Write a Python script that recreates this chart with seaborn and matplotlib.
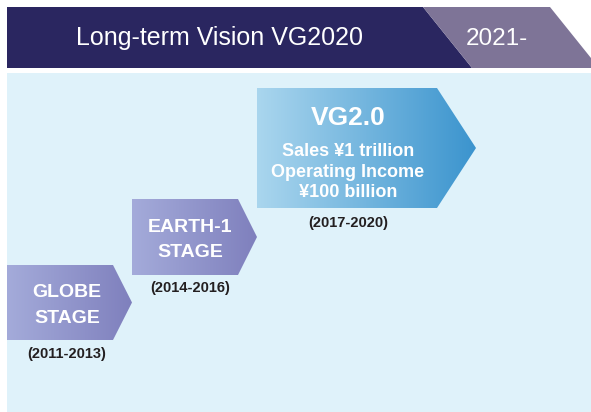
import numpy as np
import matplotlib.pyplot as plt
import seaborn as sns
from matplotlib.patches import Polygon, Rectangle

sns.set_theme(style="white")
plt.rcParams['font.family'] = ['Liberation Sans', 'DejaVu Sans']

# Content
header_title = "Long-term Vision VG2020"
header_next = "2021-"
stage_titles = [["GLOBE", "STAGE"], ["EARTH-1", "STAGE"], ["VG2.0"]]
stage_periods = ["(2011-2013)", "(2014-2016)", "(2017-2020)"]
vg_targets = ["Sales ¥1 trillion", "Operating Income", "¥100 billion"]

# Layout in pixels: left, top, bottom, body right, arrow tip
boxes = [(7, 265, 340, 113, 132), (132, 199, 275, 238, 257), (257, 88, 208, 437, 476)]
title_x = [67, 190, 348]
title_base = [[297, 323], [232, 257], [125]]
title_size = [14, 14, 19]
period_base = [358, 292, 227]
target_base = [156, 177, 197]
grads = [["#a4abda", "#7f80bd"], ["#a4abda", "#7f80bd"], ["#aad6ee", "#3b94ce"]]

W, H = 591, 412
fig = plt.figure(figsize=(W / 100, H / 100), dpi=100)
ax = fig.add_axes([0, 0, 1, 1])

# header band
ax.add_patch(Polygon([(7, 7), (423, 7), (472, 68), (7, 68)], closed=True,
                     facecolor="#2a2660", edgecolor="none"))
ax.add_patch(Polygon([(423, 7), (550, 7), (599, 68), (472, 68)], closed=True,
                     facecolor="#7e7497", edgecolor="none"))
ax.text(220, 45, header_title, color="white", fontsize=18, ha="center", va="baseline")
ax.text(497, 45, header_next, color="white", fontsize=17.5, ha="center", va="baseline")

# background panel
ax.add_patch(Rectangle((7, 73), W - 7, H - 73, facecolor="#dff2fa", edgecolor="none",
                       zorder=1))

# stage arrows with horizontal gradient
grad = np.linspace(0, 1, 256).reshape(1, -1)
for i, (x0, y0, y1, xb, xt) in enumerate(boxes):
    poly = Polygon([(x0, y0), (xb, y0), (xt, (y0 + y1) / 2), (xb, y1), (x0, y1)],
                   closed=True, facecolor="none", edgecolor="none", zorder=2)
    ax.add_patch(poly)
    cmap = sns.blend_palette(grads[i], as_cmap=True)
    im = ax.imshow(grad, cmap=cmap, extent=(x0, xt, y1, y0), aspect="auto",
                   interpolation="bicubic", zorder=2)
    im.set_clip_path(poly)

    for line, yb in zip(stage_titles[i], title_base[i]):
        ax.text(title_x[i], yb, line, color="white", fontsize=title_size[i],
                fontweight="bold", ha="center", va="baseline", zorder=4)
    ax.text(title_x[i], period_base[i], stage_periods[i], color="#231f20",
            fontsize=10.5, fontweight="bold", ha="center", va="baseline", zorder=4)

for line, yb in zip(vg_targets, target_base):
    ax.text(title_x[2], yb, line, color="white", fontsize=13, fontweight="bold",
            ha="center", va="baseline", zorder=4)

ax.set_xlim(0, W)
ax.set_ylim(H, 0)
ax.axis("off")

fig.savefig("out.png", dpi=100, facecolor="white")
